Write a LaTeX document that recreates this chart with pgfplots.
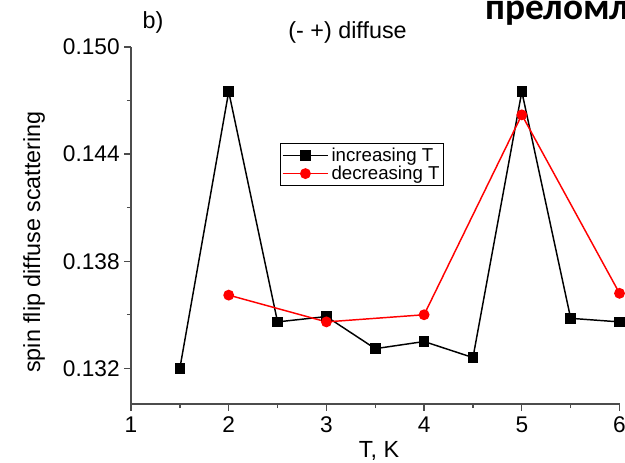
\documentclass[border=0pt]{standalone}
\usepackage{fontspec}
\setmainfont{Liberation Sans}
\newfontfamily\ruf{Carlito}
\usepackage{pgfplots}
\pgfplotsset{compat=1.18}
\begin{document}
\begin{tikzpicture}
\begin{axis}[
  scale only axis,
  width=366.4pt, height=267.75pt,
  at={(0,0)}, anchor=south west,
  axis lines=left,
  axis line style={-, black!70, line width=1.1pt},
  xmin=1, xmax=6, ymin=0.130, ymax=0.150,
  xtick={1,2,3,4,5,6},
  ytick={0.132,0.138,0.144,0.150},
  minor x tick num=1, minor y tick num=1,
  tick align=outside,
  major tick length=5pt, minor tick length=3pt,
  tick style={black!70, line width=1pt},
  scaled y ticks=false,
  /pgf/number format/assume math mode=true,
  yticklabel style={/pgf/number format/fixed, /pgf/number format/fixed zerofill, /pgf/number format/precision=3},
  ticklabel style={font=\fontsize{17}{19}\selectfont},
  xticklabel style={yshift=-1pt},
  clip=false,
  legend style={at={(rel axis cs:0.305,0.731)}, anchor=north west, draw=black, line width=0.9pt,
    font=\fontsize{14}{15.5}\selectfont, inner sep=1pt, row sep=-2pt, cells={anchor=west}},
  legend image code/.code={\draw[mark repeat=2,mark phase=2] plot coordinates {(0cm,0cm) (0.6cm,0cm) (1.2cm,0cm)};},
]
\addplot[black, line width=1.1pt, mark=square*, mark size=3.4pt, mark options={solid, fill=black}]
 coordinates {(1.5,0.1320) (2,0.1475) (2.5,0.1346) (3,0.1349) (3.5,0.1331) (4,0.1335) (4.5,0.1326) (5,0.1475) (5.5,0.1348) (6,0.1346)};
\addlegendentry{increasing T}
\addplot[red, line width=1.1pt, mark=*, mark size=3.5pt, mark options={solid, fill=red}]
 coordinates {(2,0.1361) (3,0.1346) (4,0.1350) (5,0.1462) (6,0.1362)};
\addlegendentry{decreasing T}
\end{axis}
\node[rotate=90, font=\fontsize{17.5}{19}\selectfont] at (-72.75pt,121.5pt) {spin flip diffuse scattering};
\node[font=\fontsize{17.5}{19}\selectfont] at (186pt,-35.25pt) {T, K};
\node[font=\fontsize{17.5}{19}\selectfont] at (16.5pt,286.5pt) {b)};
\node[font=\fontsize{17.5}{19}\selectfont] at (162.4pt,279pt) {(- +) diffuse};
\node[anchor=base west, inner sep=0pt, font=\ruf\bfseries\fontsize{28}{30}\selectfont] at (265.5pt,288.75pt) {преломления};
\pgfresetboundingbox
\useasboundingbox (-98.25pt,-43.5pt) rectangle (370.5pt,303pt);
\end{tikzpicture}
\end{document}
